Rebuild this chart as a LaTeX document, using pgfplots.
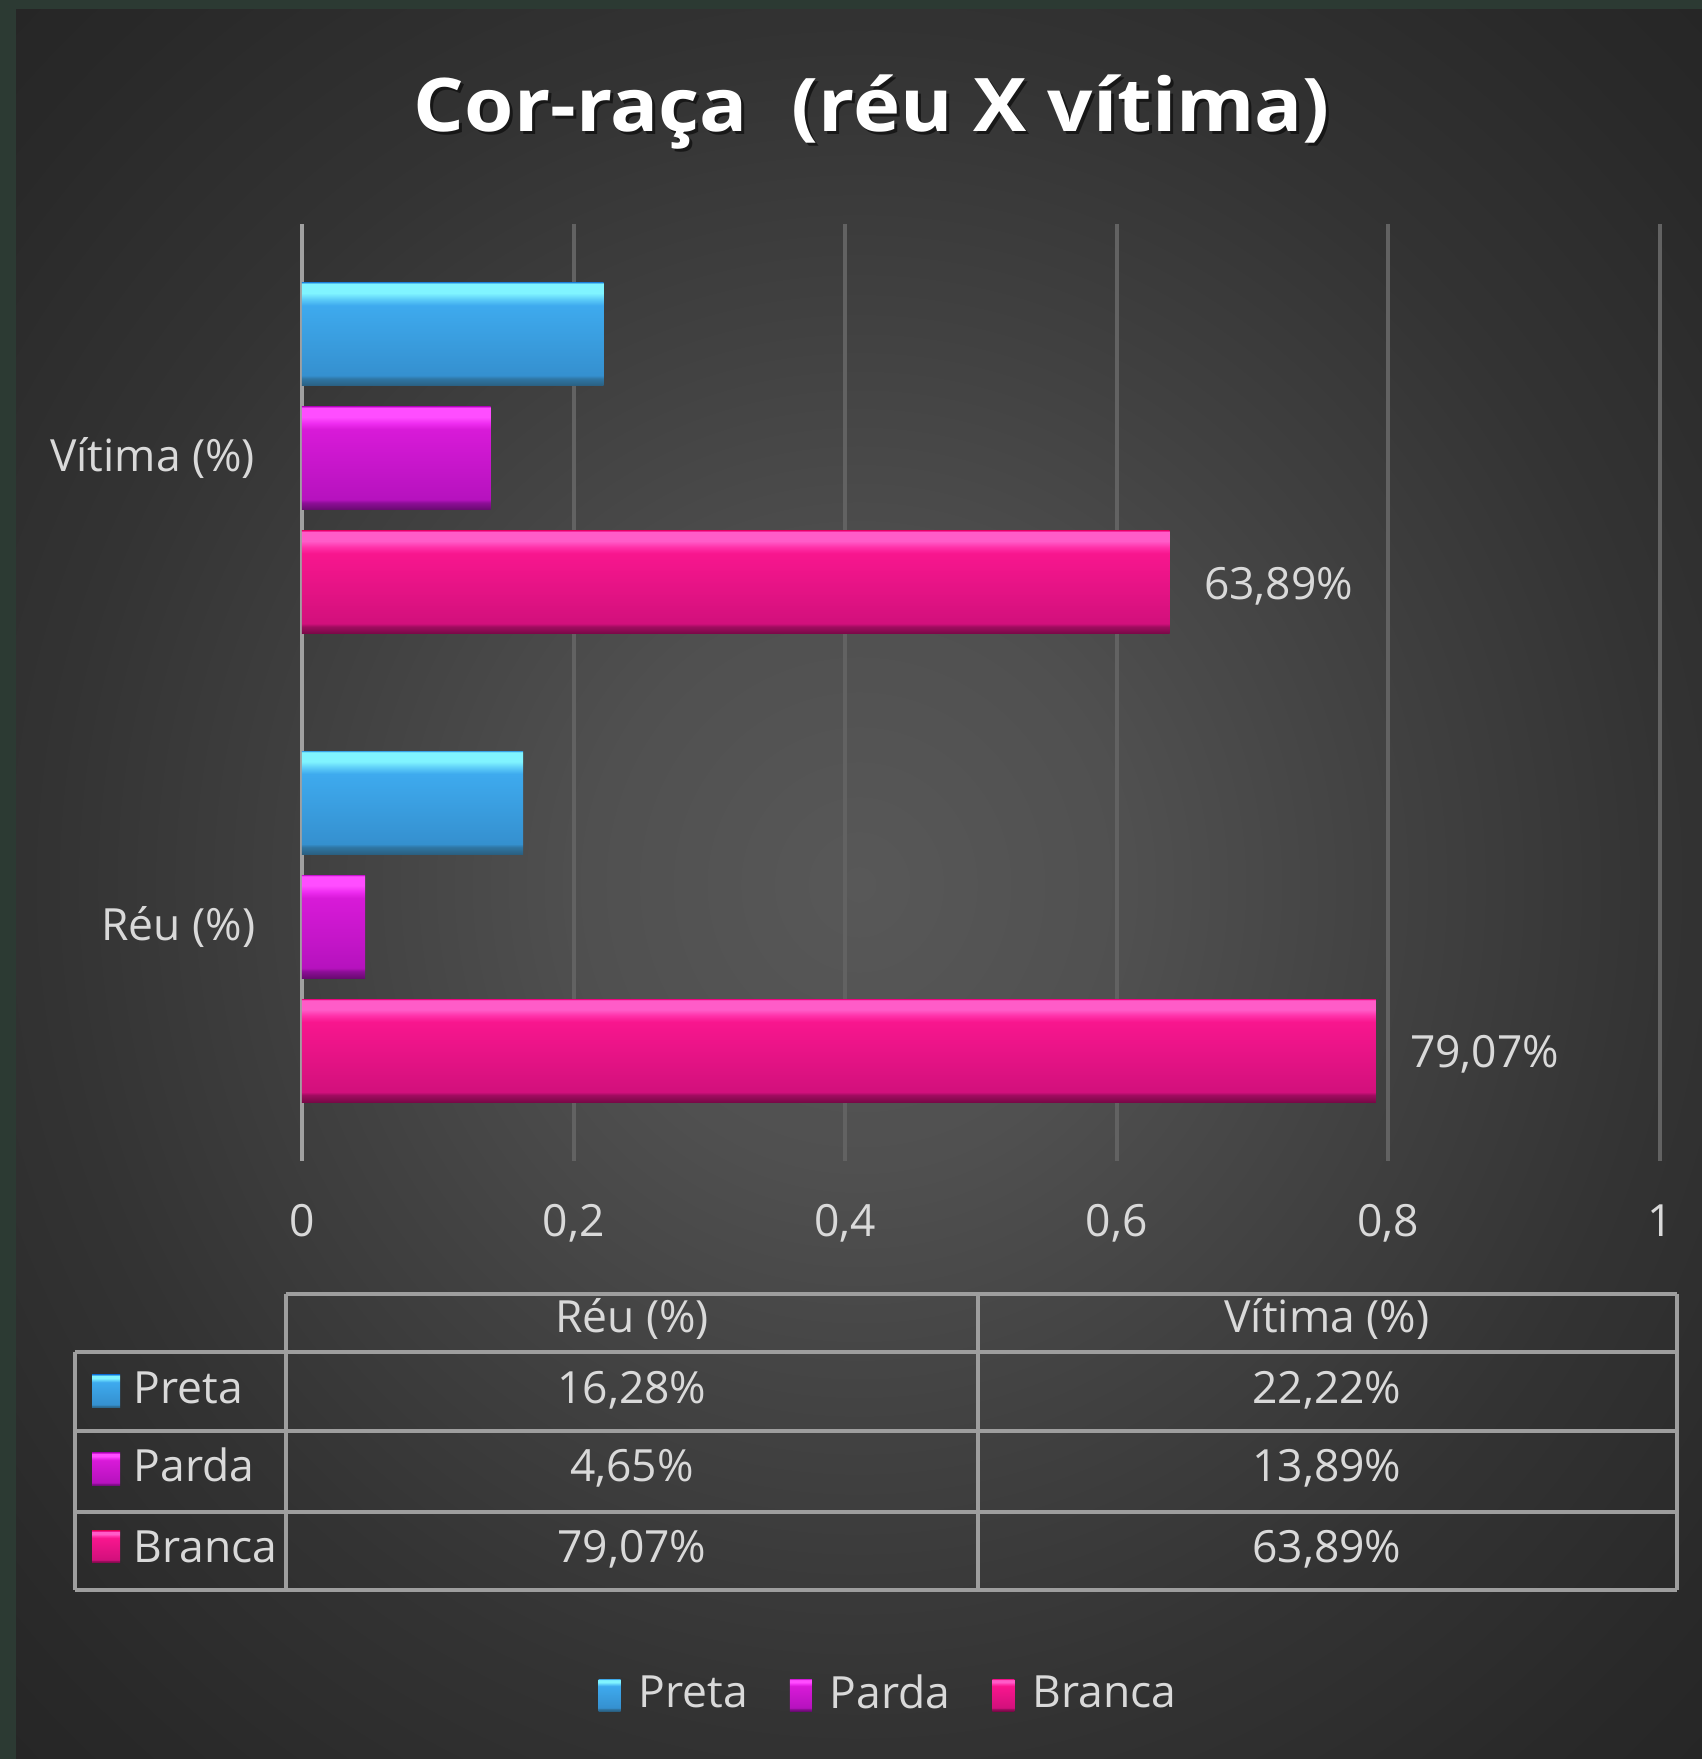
\documentclass[border=0pt]{standalone}
\usepackage{fontspec}
\setmainfont{Open Sans}
\usepackage{graphicx}
\usepackage{pgfplots}
\pgfplotsset{compat=1.18}

\definecolor{bordergreen}{HTML}{2C3A33}
\definecolor{txt}{HTML}{D9D9D9}
\definecolor{gridc}{HTML}{626262}
\definecolor{axisc}{HTML}{A0A0A0}
\definecolor{tablec}{HTML}{9E9E9E}
\definecolor{bgA}{HTML}{585858}
\definecolor{bgB}{HTML}{505050}
\definecolor{bgC}{HTML}{414141}
\definecolor{bgD}{HTML}{333333}
\definecolor{bgE}{HTML}{292929}
\definecolor{bgF}{HTML}{222222}
\pgfdeclareradialshading{bgshade}{\pgfpoint{0bp}{0bp}}{color(0bp)=(bgA); color(8bp)=(bgB); color(16bp)=(bgC); color(24bp)=(bgD); color(32bp)=(bgE); color(40bp)=(bgF); color(50bp)=(bgF)}

% Preta
\definecolor{pE}{HTML}{45B0EA}\definecolor{pH}{HTML}{80F4FF}\definecolor{pL}{HTML}{5CCCF8}
\definecolor{pM}{HTML}{3EAAEE}\definecolor{pD}{HTML}{3590CF}\definecolor{pB2}{HTML}{2F76A4}\definecolor{pB}{HTML}{2A5F80}
% Parda
\definecolor{aE}{HTML}{D21ED8}\definecolor{aH}{HTML}{FF4DFF}\definecolor{aL}{HTML}{EE2CF0}
\definecolor{aM}{HTML}{D81AD8}\definecolor{aD}{HTML}{B612BE}\definecolor{aB2}{HTML}{8E0E98}\definecolor{aB}{HTML}{680A70}
% Branca
\definecolor{bE}{HTML}{F0168C}\definecolor{bH}{HTML}{FF5CC8}\definecolor{bL}{HTML}{FF30A8}
\definecolor{bM}{HTML}{F8168E}\definecolor{bD}{HTML}{D2107C}\definecolor{bB2}{HTML}{A00C60}\definecolor{bB}{HTML}{780846}

\pgfdeclareverticalshading{pretash}{100bp}{color(0bp)=(pB); color(25bp)=(pB); color(28.5bp)=(pB2); color(30bp)=(pD); color(64bp)=(pM); color(67bp)=(pL); color(70bp)=(pH); color(74.5bp)=(pH); color(75bp)=(pE); color(100bp)=(pE)}
\pgfdeclareverticalshading{pardash}{100bp}{color(0bp)=(aB); color(25bp)=(aB); color(28.5bp)=(aB2); color(30bp)=(aD); color(64bp)=(aM); color(67bp)=(aL); color(70bp)=(aH); color(74.5bp)=(aH); color(75bp)=(aE); color(100bp)=(aE)}
\pgfdeclareverticalshading{brancash}{100bp}{color(0bp)=(bB); color(25bp)=(bB); color(28.5bp)=(bB2); color(30bp)=(bD); color(64bp)=(bM); color(67bp)=(bL); color(70bp)=(bH); color(74.5bp)=(bH); color(75bp)=(bE); color(100bp)=(bE)}

\newcommand{\lbl}{\fontsize{11.1}{13.3}\selectfont}

\begin{document}
\begin{tikzpicture}
\useasboundingbox (0,0) rectangle (425.5pt,439.75pt);
% background and title (pixel coordinates, y downwards)
\begin{scope}[shift={(0pt,439.75pt)}, x=0.25pt, y=-0.25pt]
  \fill[bordergreen] (0,0) rectangle (1702,1759);
  \shade[shading=bgshade] (16,10) rectangle (1702,1759);
  \node[anchor=base, inner sep=0pt, text=black, opacity=0.55] at (875,135)
    {\resizebox{229pt}{\height}{\fontsize{18.5}{22}\selectfont\bfseries Cor-raça\hspace{0.55em}(réu X vítima)}};
  \node[anchor=base, inner sep=0pt, text=white] at (872,132)
    {\resizebox{229pt}{\height}{\fontsize{18.5}{22}\selectfont\bfseries Cor-raça\hspace{0.55em}(réu X vítima)}};
\end{scope}

\begin{axis}[
  at={(75.5pt,149.5pt)}, anchor=south west,
  scale only axis, width=339.5pt, height=234.25pt,
  xmin=0, xmax=1, ymin=-0.5, ymax=1.5,
  xtick={0,0.2,0.4,0.6,0.8,1},
  xticklabels={0,{0,2},{0,4},{0,6},{0,8},1},
  ytick={0,1},
  yticklabels={Réu (\%),Vítima (\%)},
  axis line style={draw=none},
  tick style={draw=none},
  xmajorgrids,
  major grid style={gridc, line width=1pt},
  xticklabel style={font=\lbl, text=txt, anchor=base, yshift=-18.9pt},
  yticklabel style={font=\lbl, text=txt, anchor=east, inner sep=0pt, xshift=-11.5pt},
  clip=false,
  legend columns=3,
  legend style={at={(0.434,-0.570)}, anchor=center, draw=none, fill=none,
    text=txt, font=\lbl,
    /tikz/every odd column/.append style={column sep=2.5pt},
    /tikz/every even column/.append style={column sep=8.5pt}},
  every node near coord/.append style={font=\lbl, text=txt, anchor=west, inner sep=0pt, xshift=8.4pt, yshift=-32pt},
]
\draw[axisc, line width=1pt] (axis cs:0,-0.5) -- (axis cs:0,1.5);

% Réu (y=0) and Vítima (y=1)
\addplot[forget plot, xbar, bar width=25.75pt, bar shift=31pt, draw=none, shade, shading=pretash] coordinates {(0.1628,0)};
\addplot[forget plot, xbar, bar width=25.75pt, bar shift=31pt, draw=none, shade, shading=pretash] coordinates {(0.2222,1)};
\addplot[forget plot, xbar, bar width=25.75pt, bar shift=0pt, draw=none, shade, shading=pardash] coordinates {(0.0465,0)};
\addplot[forget plot, xbar, bar width=25.75pt, bar shift=0pt, draw=none, shade, shading=pardash] coordinates {(0.1389,1)};
\addplot[forget plot, xbar, bar width=25.75pt, bar shift=-31pt, draw=none, shade, shading=brancash,
  point meta=explicit symbolic, nodes near coords] coordinates {(0.7907,0) [79,07\%]};
\addplot[forget plot, xbar, bar width=25.75pt, bar shift=-31pt, draw=none, shade, shading=brancash,
  point meta=explicit symbolic, nodes near coords] coordinates {(0.6389,1) [63,89\%]};

\addlegendimage{legend image code/.code={\shade[shading=pretash, draw=none] (0pt,-4pt) rectangle (5.5pt,4pt);}}
\addlegendentry{Preta}
\addlegendimage{legend image code/.code={\shade[shading=pardash, draw=none] (0pt,-4pt) rectangle (5.5pt,4pt);}}
\addlegendentry{Parda}
\addlegendimage{legend image code/.code={\shade[shading=brancash, draw=none] (0pt,-4pt) rectangle (5.5pt,4pt);}}
\addlegendentry{Branca}
\end{axis}

% data table (pixel coordinates, y downwards)
\begin{scope}[shift={(0pt,439.75pt)}, x=0.25pt, y=-0.25pt]
  \begin{scope}[tablec, line width=1pt]
    \draw (286,1294) -- (1677,1294);
    \draw (75,1352) -- (1677,1352);
    \draw (75,1431) -- (1677,1431);
    \draw (75,1512) -- (1677,1512);
    \draw (75,1590) -- (1677,1590);
    \draw (75,1352) -- (75,1590);
    \draw (286,1294) -- (286,1590);
    \draw (978,1294) -- (978,1590);
    \draw (1677,1294) -- (1677,1590);
  \end{scope}
  \begin{scope}[every node/.style={font=\lbl, text=txt, inner sep=0pt}]
    \node[anchor=base] at (632,1333) {Réu (\%)};
    \node[anchor=base] at (1327,1333) {Vítima (\%)};
    \node[anchor=base] at (632,1404) {16,28\%};
    \node[anchor=base] at (1327,1404) {22,22\%};
    \node[anchor=base] at (632,1482) {4,65\%};
    \node[anchor=base] at (1327,1482) {13,89\%};
    \node[anchor=base] at (632,1563) {79,07\%};
    \node[anchor=base] at (1327,1563) {63,89\%};
    \node[anchor=base west] at (133,1404) {Preta};
    \node[anchor=base west] at (133,1482) {Parda};
    \node[anchor=base west] at (133,1563) {Branca};
  \end{scope}
  \shade[shading=pretash] (92,1375) rectangle (120,1408);
  \shade[shading=pardash] (92,1453) rectangle (120,1486);
  \shade[shading=brancash] (92,1531) rectangle (120,1563);
\end{scope}
\end{tikzpicture}
\end{document}
